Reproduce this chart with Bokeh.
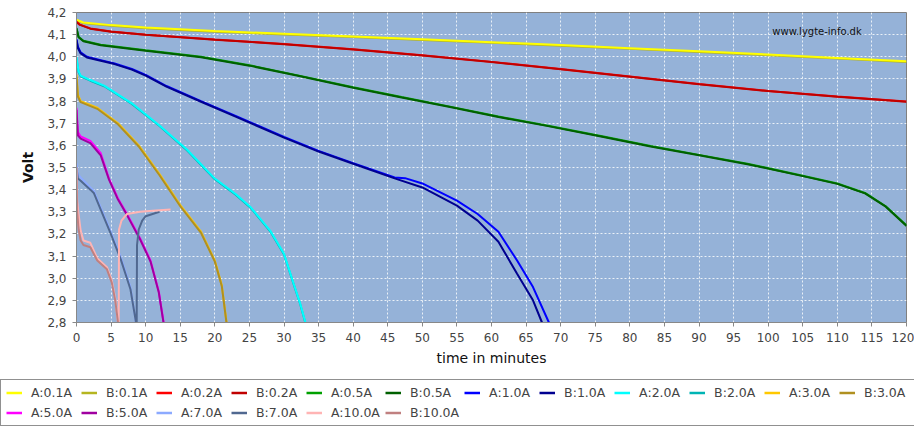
from bokeh.plotting import figure
from bokeh.models import Range1d, FixedTicker, Legend, LegendItem, Label
from bokeh.embed import file_html
from bokeh.resources import INLINE

# ---------------- data ----------------
x_ticks = list(range(0, 125, 5))
y_ticks = [2.8, 2.9, 3.0, 3.1, 3.2, 3.3, 3.4, 3.5, 3.6, 3.7, 3.8, 3.9, 4.0, 4.1, 4.2]
y_tick_labels = ["2,8", "2,9", "3,0", "3,1", "3,2", "3,3", "3,4", "3,5",
                 "3,6", "3,7", "3,8", "3,9", "4,0", "4,1", "4,2"]

series_names = ["A:0.1A", "B:0.1A", "A:0.2A", "B:0.2A", "A:0.5A", "B:0.5A",
                "A:1.0A", "B:1.0A", "A:2.0A", "B:2.0A", "A:3.0A", "B:3.0A",
                "A:5.0A", "B:5.0A", "A:7.0A", "B:7.0A", "A:10.0A", "B:10.0A"]
series_colors = ["#ffff00", "#b5b520", "#ff0000", "#c00000", "#00a000", "#006000",
                 "#0000ff", "#000090", "#00ffff", "#00b4b4", "#ffc800", "#b09020",
                 "#ff00ff", "#a000a0", "#8caaff", "#506890", "#ffb4b4", "#c08080"]

t_01 = [0, 1, 5, 10, 20, 30, 40, 50, 60, 70, 80, 90, 100, 110, 120]
v_01a = [4.167, 4.155, 4.143, 4.132, 4.116, 4.104, 4.092, 4.079, 4.066, 4.053, 4.039, 4.025, 4.010, 3.995, 3.980]
v_01b = [4.163, 4.152, 4.140, 4.129, 4.113, 4.101, 4.089, 4.076, 4.063, 4.050, 4.036, 4.022, 4.007, 3.992, 3.977]

t_02 = [0, 0.5, 2, 5, 10, 20, 30, 40, 50, 60, 70, 80, 90, 100, 110, 120]
v_02a = [4.158, 4.145, 4.128, 4.114, 4.100, 4.078, 4.058, 4.034, 4.007, 3.977, 3.945, 3.911, 3.877, 3.846, 3.821, 3.798]
v_02b = [4.156, 4.144, 4.127, 4.113, 4.099, 4.077, 4.057, 4.033, 4.006, 3.976, 3.944, 3.910, 3.876, 3.845, 3.820, 3.797]

t_05 = [0, 0.3, 1, 3.5, 10, 18, 25, 32, 40, 47, 54, 61, 68, 76, 83, 90, 97, 105, 110, 114, 117, 120]
v_05a = [4.13, 4.09, 4.072, 4.054, 4.029, 4.0, 3.962, 3.916, 3.862, 3.818, 3.775, 3.730, 3.690, 3.641, 3.597, 3.557, 3.517, 3.463, 3.428, 3.385, 3.325, 3.239]
v_05b = [4.128, 4.088, 4.070, 4.052, 4.027, 3.998, 3.960, 3.914, 3.860, 3.816, 3.773, 3.728, 3.688, 3.639, 3.595, 3.555, 3.515, 3.461, 3.426, 3.383, 3.323, 3.236]

t_10a = [0, 0.2, 0.6, 1.5, 3.5, 5.5, 8, 10, 13, 18, 23, 25, 30, 35, 40, 46, 47.5, 50, 55, 58, 61, 63.7, 66, 68.3]
v_10a = [4.08, 4.045, 4.02, 4.0, 3.985, 3.97, 3.945, 3.918, 3.868, 3.80, 3.733, 3.706, 3.638, 3.575, 3.52, 3.455, 3.452, 3.428, 3.35, 3.29, 3.21, 3.08, 2.96, 2.80]
t_10b = [0, 0.2, 0.6, 1.5, 3.5, 5.5, 8, 10, 13, 18, 23, 25, 30, 35, 40, 46, 50, 55, 58, 61, 63.7, 66, 67.3]
v_10b = [4.075, 4.04, 4.015, 3.997, 3.982, 3.967, 3.942, 3.915, 3.865, 3.797, 3.730, 3.703, 3.635, 3.572, 3.517, 3.451, 3.41, 3.328, 3.26, 3.165, 3.02, 2.90, 2.80]

t_20 = [0, 0.3, 0.6, 2, 4, 8, 12, 16, 20, 23, 25.2, 28, 30, 31.4, 32.3, 33.1]
v_20a = [4.0, 3.935, 3.915, 3.895, 3.87, 3.79, 3.69, 3.58, 3.45, 3.38, 3.32, 3.215, 3.11, 2.975, 2.89, 2.80]
v_20b = [3.99, 3.93, 3.912, 3.892, 3.867, 3.787, 3.687, 3.577, 3.447, 3.377, 3.317, 3.212, 3.107, 2.972, 2.887, 2.797]

t_30 = [0, 0.2, 0.6, 3, 6, 9, 12, 15, 18, 20, 21, 21.7]
v_30a = [3.92, 3.83, 3.80, 3.77, 3.70, 3.60, 3.47, 3.33, 3.21, 3.08, 2.97, 2.80]
v_30b = [3.91, 3.82, 3.795, 3.765, 3.695, 3.595, 3.465, 3.325, 3.205, 3.075, 2.965, 2.795]

t_50 = [0, 0.2, 0.6, 2, 3.5, 4.7, 6, 7.3, 9.2, 10.7, 11.9, 12.6]
v_50a = [3.77, 3.66, 3.64, 3.62, 3.565, 3.45, 3.36, 3.29, 3.18, 3.08, 2.94, 2.80]
v_50b = [3.76, 3.645, 3.63, 3.61, 3.555, 3.445, 3.355, 3.285, 3.175, 3.075, 2.935, 2.795]

t_70a = [0, 0.2, 0.6, 2, 2.5, 3.5, 4.9, 6.4, 7.8, 8.5, 8.6]
v_70a = [3.52, 3.47, 3.455, 3.41, 3.395, 3.32, 3.215, 3.095, 2.96, 2.82, 2.78]
t_70b = [0, 0.2, 0.6, 2, 2.5, 3.5, 4.9, 6.4, 7.8, 8.5, 8.7, 8.75, 9.0, 9.5, 10, 11, 12]
v_70b = [3.50, 3.45, 3.44, 3.40, 3.385, 3.31, 3.205, 3.085, 2.95, 2.82, 2.78, 3.15, 3.22, 3.26, 3.28, 3.29, 3.30]

t_100a = [0, 0.1, 0.3, 0.6, 1, 2, 3, 4.4, 5.1, 5.6, 6.0, 6.1, 6.15, 6.5, 7.3, 9.2, 11, 13.6]
v_100a = [3.5, 3.35, 3.29, 3.215, 3.17, 3.16, 3.09, 3.05, 2.99, 2.91, 2.80, 2.78, 3.22, 3.26, 3.29, 3.30, 3.305, 3.31]
t_100b = [0, 0.1, 0.3, 0.6, 1, 2, 3, 4.4, 5.1, 5.6, 6.0, 6.1]
v_100b = [3.45, 3.30, 3.22, 3.17, 3.15, 3.14, 3.08, 3.04, 2.98, 2.90, 2.80, 2.78]

series_t = [t_01, t_01, t_02, t_02, t_05, t_05, t_10a, t_10b, t_20, t_20,
            t_30, t_30, t_50, t_50, t_70a, t_70b, t_100a, t_100b]
series_v = [v_01a, v_01b, v_02a, v_02b, v_05a, v_05b, v_10a, v_10b, v_20a, v_20b,
            v_30a, v_30b, v_50a, v_50b, v_70a, v_70b, v_100a, v_100b]
# drawing order (the bright A trace of 0.1A and 2.0A lies on top in the reference)
draw_order = [1, 0, 2, 3, 4, 5, 6, 7, 9, 8, 10, 11, 12, 13, 14, 15, 16, 17]

FONT = "DejaVu Sans"

# ---------------- chart ----------------
p = figure(width=914, height=379, output_backend="svg", toolbar_location=None,
           x_range=Range1d(0, 120), y_range=Range1d(2.8, 4.2),
           min_border_left=76, min_border_right=8, min_border_top=12, min_border_bottom=57,
           background_fill_color="#95b2d8", border_fill_color="white",
           outline_line_color="#808080")

for i in draw_order:
    p.line(series_t[i], series_v[i], line_color=series_colors[i], line_width=2)

p.xaxis.ticker = FixedTicker(ticks=x_ticks)
p.yaxis.ticker = FixedTicker(ticks=y_ticks)
p.yaxis.major_label_overrides = {tk: lb for tk, lb in zip(y_ticks, y_tick_labels)}

for ax in (p.xaxis[0], p.yaxis[0]):
    ax.major_label_text_font = FONT
    ax.major_label_text_font_size = "12px"
    ax.major_label_text_color = "#444444"
    ax.axis_line_color = "#888888"
    ax.major_tick_line_color = "#888888"
    ax.major_tick_out = 4
    ax.major_tick_in = 0
    ax.minor_tick_line_color = None
    ax.major_label_standoff = 6
    ax.axis_label_text_font = FONT
    ax.axis_label_text_color = "#111111"

p.xaxis.axis_label = "time in minutes"
p.xaxis.axis_label_text_font_size = "14px"
p.xaxis.axis_label_text_font_style = "normal"
p.xaxis.axis_label_standoff = 5

p.yaxis.axis_label = "Volt"
p.yaxis.axis_label_text_font_size = "14px"
p.yaxis.axis_label_text_font_style = "bold"
p.yaxis.axis_label_standoff = 8

p.grid.grid_line_color = "white"
p.grid.grid_line_dash = "2 2"
p.grid.grid_line_alpha = 0.8
p.grid.grid_line_width = 1

p.add_layout(Label(x=100.6, y=4.116, text="www.lygte-info.dk", text_font=FONT,
                   text_font_size="10px", text_color="#111111",
                   text_baseline="middle", text_align="left"))

# ---------------- legend strip (separate root, full page width) ----------------
lg = figure(width=914, height=47, output_backend="svg", toolbar_location=None,
            x_range=Range1d(1000, 1001), y_range=Range1d(1000, 1001),
            x_axis_location=None, y_axis_location=None,
            min_border_left=0, min_border_right=0, min_border_top=0, min_border_bottom=0,
            outline_line_color=None, background_fill_color="white", border_fill_color="white")
lg.grid.visible = False

items = []
for name, t, v, c in zip(series_names, series_t, series_v, series_colors):
    # proxy line (outside the visible range) used only to draw the legend swatch
    r = lg.line(t[:2], v[:2], line_color=c, line_width=2.5)
    items.append(LegendItem(label=name, renderers=[r]))

legend = Legend(items=items, location="top_left", orientation="horizontal", ncols=12,
                margin=0, padding=5, spacing=5,
                glyph_width=16, glyph_height=15, label_standoff=9, label_width=45,
                label_text_font=FONT, label_text_font_size="12.5px",
                label_text_color="#444444",
                border_line_color="#222222", border_line_width=1,
                background_fill_color="white", background_fill_alpha=1.0)
lg.add_layout(legend)

open("out.html", "w").write(file_html([p, lg], INLINE))
